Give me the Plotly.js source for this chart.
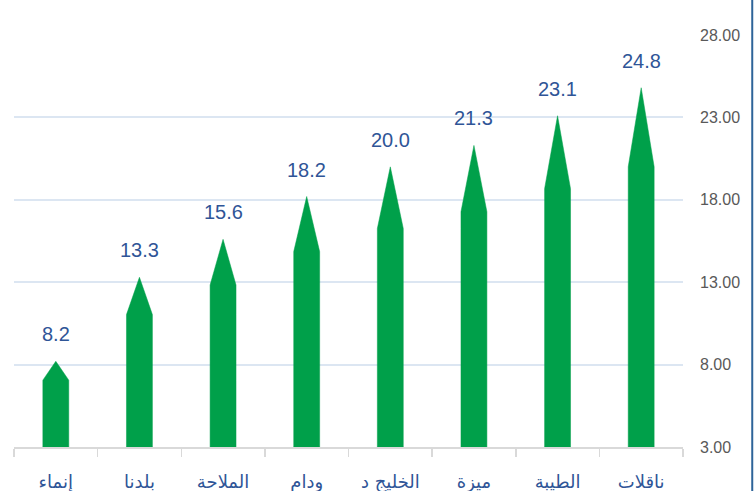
<!DOCTYPE html>
<html>
<head>
<meta charset="utf-8">
<script src="https://cdn.plot.ly/plotly-3.0.1.min.js"></script>
<style>
html,body{margin:0;padding:0;background:#fff;}
#chart{width:754px;height:491px;}
</style>
</head>
<body>
<div id="chart"></div>
<script>
// Data
const categories = ["إنماء", "بلدنا", "الملاحة", "ودام", "الخليج د", "ميزة", "الطيبة", "ناقلات"];
const values = [8.2, 13.3, 15.6, 18.2, 20.0, 21.3, 23.1, 24.8];
const valueLabels = ["8.2", "13.3", "15.6", "18.2", "20.0", "21.3", "23.1", "24.8"];
const yTickVals = [3, 8, 13, 18, 23, 28];
const yTickText = ["3.00", "8.00", "13.00", "18.00", "23.00", "28.00"];

// Style constants
const base = 3;
const halfW = 0.155;
const shoulderFrac = 0.78;
const green = "#00A04A";

// Arrow-shaped columns (pentagons) built from values
const px = [], py = [];
values.forEach((v, i) => {
  const s = base + shoulderFrac * (v - base);
  px.push(i - halfW, i - halfW, i, i + halfW, i + halfW, i - halfW, null);
  py.push(base, s, v, s, base, base, null);
});

const idx = categories.map((_, i) => i);
const bounds = [];
for (let i = 0; i <= categories.length; i++) bounds.push(i - 0.5);

const traces = [
  {
    type: "scatter", mode: "lines", x: px, y: py,
    fill: "toself", fillcolor: green,
    line: {color: green, width: 0.5},
    hoverinfo: "skip", showlegend: false, connectgaps: false
  },
  {
    type: "scatter", mode: "none", x: [0], y: [base], xaxis: "x2",
    hoverinfo: "skip", showlegend: false
  }
];

const annotations = values.map((v, i) => ({
  x: i, y: v, xref: "x", yref: "y",
  text: valueLabels[i], showarrow: false,
  yanchor: "middle", yshift: 27,
  font: {family: "Liberation Sans Narrow, Arial Narrow, Liberation Sans, sans-serif", size: 20, color: "#2F5597"}
}));

const layout = {
  width: 754, height: 491,
  margin: {l: 14, r: 71, t: 35, b: 44},
  paper_bgcolor: "#fff", plot_bgcolor: "#fff",
  showlegend: false,
  xaxis: {
    type: "linear", range: [-0.5, categories.length - 0.5],
    tickvals: idx, ticktext: categories,
    showgrid: false, zeroline: false, showline: false, ticks: "",
    ticklabelstandoff: 22,
    tickfont: {family: "DejaVu Sans, Noto Sans, sans-serif", size: 18, color: "#2F5597"},
    fixedrange: true
  },
  xaxis2: {
    type: "linear", overlaying: "x", anchor: "y", side: "bottom",
    range: [-0.5, categories.length - 0.5],
    tickvals: bounds, showticklabels: false,
    ticks: "outside", ticklen: 8, tickcolor: "#D9D9D9", tickwidth: 1.5,
    showline: true, linecolor: "#D9D9D9", linewidth: 1.5,
    showgrid: false, zeroline: false
  },
  yaxis: {
    side: "right", range: [3, 28],
    tickvals: yTickVals, ticktext: yTickText,
    showgrid: true, gridcolor: "#DCE6F2", gridwidth: 2,
    zeroline: false, showline: false, ticks: "",
    ticklabelstandoff: 16,
    tickfont: {family: "Liberation Sans Narrow, Arial Narrow, Liberation Sans, sans-serif", size: 16, color: "#595959"}
  },
  annotations: annotations,
  shapes: [{
    type: "line", xref: "paper", yref: "paper",
    x0: 1.1035, x1: 1.1035, y0: -0.2, y1: 1.2,
    line: {color: "#2E6499", width: 2}
  }]
};

Plotly.newPlot("chart", traces, layout, {displayModeBar: false, staticPlot: true});
</script>
</body>
</html>
